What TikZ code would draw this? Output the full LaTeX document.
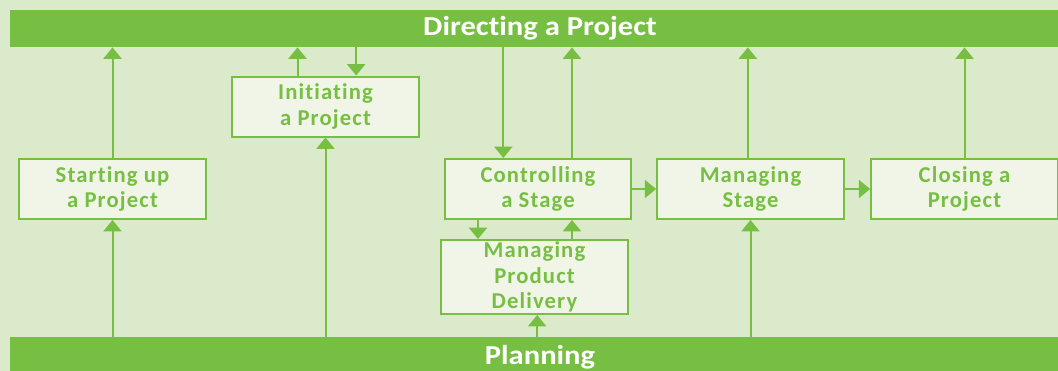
\documentclass[tikz,border=0pt]{standalone}
\usepackage{fontspec}
\setmainfont{Carlito}
\newfontfamily\spacedfont[LetterSpace=5.0,Ligatures=NoCommon,RawFeature=-liga]{Carlito}
\newfontfamily\widefont[FakeStretch=1.12,Ligatures=NoCommon,RawFeature=-liga]{Carlito}
\usetikzlibrary{arrows.meta,positioning}
\definecolor{pgreen}{HTML}{77BF43}
\definecolor{pback}{HTML}{DAEACB}
\definecolor{pbox}{HTML}{F0F5E8}
\tikzset{
  procbox/.style={draw=pgreen,fill=pbox,line width=1.5pt,minimum width=140pt,
    minimum height=45pt,inner sep=0pt,align=center,text=pgreen,
    font=\spacedfont\bfseries\fontsize{17}{19}\selectfont},
  bar/.style={fill=pgreen,text=white,minimum width=795pt,minimum height=28pt,
    inner sep=0pt,font=\widefont\bfseries\fontsize{20.5}{22}\selectfont},
  flow/.style={draw=pgreen,line width=1.5pt,-{Triangle[width=13.5pt,length=8.5pt]}}
}
\begin{document}
\begin{tikzpicture}[x=0.75pt,y=-0.75pt]
  \clip (0,0) rectangle (1058,371);
  \fill[pback] (0,0) rectangle (1058,371);
  % the two bars
  \node[bar] (dir) at (540,28.5) {Directing a Project};
  \node[bar,minimum height=30pt] (plan) at (540,357) {Planning};
  % processes
  \node[procbox] (start) at (112.5,189) {Starting up\\a Project};
  \node[procbox] (init) at (325.5,106.5) {Initiating\\a Project};
  \node[procbox] (ctrl) at (538,189) {Controlling\\a Stage};
  \node[procbox,minimum height=55.5pt] (mpd) at (534.5,277) {Managing\\Product\\Delivery};
  \node[procbox] (mstage) at (750.5,189) {Managing\\Stage};
  \node[procbox] (close) at (964.5,189) {Closing a\\Project};
  % up and down to Directing a Project
  \draw[flow] (start.north) -- (start.north |- dir.south);
  \draw[flow] ([xshift=-21pt]init.north) -- ([xshift=-21pt]init.north |- dir.south);
  \draw[flow] ([xshift=23pt]init.north |- dir.south) -- ([xshift=23pt]init.north);
  \draw[flow] ([xshift=-26pt]ctrl.north |- dir.south) -- ([xshift=-26pt]ctrl.north);
  \draw[flow] ([xshift=25.5pt]ctrl.north) -- ([xshift=25.5pt]ctrl.north |- dir.south);
  \draw[flow] ([xshift=-2pt]mstage.north) -- ([xshift=-2pt]mstage.north |- dir.south);
  \draw[flow] (close.north) -- (close.north |- dir.south);
  % up from Planning
  \draw[flow] (start.south |- plan.north) -- (start.south);
  \draw[flow] (init.south |- plan.north) -- (init.south);
  \draw[flow] ([xshift=2pt]mpd.south |- plan.north) -- ([xshift=2pt]mpd.south);
  \draw[flow] (mstage.south |- plan.north) -- (mstage.south);
  % between stages
  \draw[flow] ([xshift=-45pt]ctrl.south) -- ([xshift=-45pt]ctrl.south |- mpd.north);
  \draw[flow] ([xshift=25.5pt]ctrl.south |- mpd.north) -- ([xshift=25.5pt]ctrl.south);
  \draw[flow] (ctrl.east) -- (mstage.west);
  \draw[flow] (mstage.east) -- (close.west);
\end{tikzpicture}
\end{document}
